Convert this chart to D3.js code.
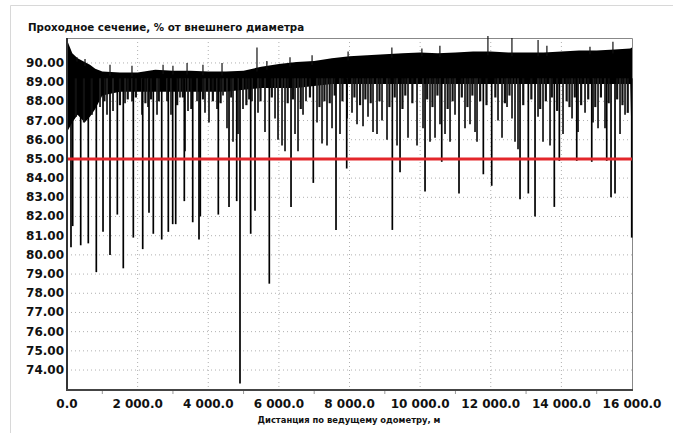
<!DOCTYPE html>
<html>
<head>
<meta charset="utf-8">
<script src="https://cdn.jsdelivr.net/npm/d3@7"></script>
<style>
  body { margin: 0; background: #fff; }
  text { font-family: "DejaVu Sans", sans-serif; font-weight: bold; fill: #111; }
</style>
</head>
<body>
<script>
// band of the signal (dense part)
var bandDist = [0,150,300,500,650,800,1000,1500,2000,2500,3000,3500,4000,4500,5000,5500,6000,6500,7000,7500,8000,
  8500,9000,9500,10000,10500,11000,11500,12000,12500,13000,13500,14000,14500,15000,15500,15950,16000];
var bandTop = [91.2,90.5,90.25,90.05,89.9,89.7,89.55,89.5,89.5,89.65,89.6,89.6,89.55,89.55,89.6,89.8,89.95,90.05,90.1,90.25,90.35,
  90.4,90.45,90.5,90.55,90.5,90.55,90.6,90.6,90.55,90.55,90.55,90.6,90.65,90.65,90.7,90.75,90.8];
var bandBottom = [86.4,86.9,87.3,86.9,87.2,87.6,88.3,88.5,88.5,88.5,88.5,88.5,88.5,88.5,88.6,88.7,88.7,88.7,88.8,88.9,88.9,
  88.9,88.9,88.9,88.9,88.9,88.9,88.9,88.9,88.9,88.9,88.9,88.9,88.9,88.9,88.9,88.9,85.0];

// deep dips: distance, minimum
var deepDist = [113,161,388,603,830,1020,1218,1425,1594,1878,2144,2322,2444,2682,2869,2993,3078,3322,3560,3738,
  3775,4285,4588,4806,4899,5202,5324,5729,6344,6975,7618,7921,9213,9431,10139,10612,11101,11790,12027,12829,
  13064,13254,13800,13942,14435,14860,15284,15406,15519,15992];
var deepMin = [80.4,81.5,80.5,80.6,79.1,81.2,80.0,82.1,79.3,80.9,80.3,82.2,81.1,80.8,81.2,81.6,81.6,82.8,81.7,80.8,
  82.0,82.1,82.5,82.8,73.3,81.1,82.3,78.5,82.5,83.75,81.3,84.5,81.3,84.3,83.3,84.85,83.2,84.2,83.6,82.9,
  83.2,82.0,82.5,84.9,84.9,84.85,84.9,83.0,83.2,80.9];

// shallow dips: distance, minimum
var shallowDist = [935,1133,1303,1643,1841,2124,2294,2549,2832,2945,3200,3342,3427,3682,3908,4021,4248,4418,4531,4701,
  4843,4984,5239,5409,5607,5891,5976,6089,6174,6457,6542,6684,6768,7080,7222,7363,7505,7731,7930,8071,
  8213,8383,8524,8666,8779,8921,9062,9346,9657,9912,10082,10280,10422,10563,10705,10847,10988,11271,11413,11555,
  11611,12206,12319,12461,12602,12687,12772,13339,13480,13679,14047,14302,14472,14670,14897,15038,15236,15661,15803];
var shallowMin = [87.7,87.3,87.5,87.9,88.0,87.3,87.7,87.3,88.0,87.3,88.2,85.4,87.5,88.0,87.4,86.9,87.6,88.3,86.6,85.9,
  86.3,87.6,88.0,87.4,86.4,87.1,86.0,85.7,85.4,86.3,85.4,87.3,88.0,86.9,85.8,85.7,86.6,86.3,87.1,87.4,
  86.8,86.7,87.2,86.4,86.3,87.0,86.0,85.7,86.1,85.7,86.6,85.9,86.1,86.8,86.3,85.9,87.3,86.6,86.8,86.4,
  85.9,87.0,86.1,87.7,87.1,85.9,85.5,87.2,85.9,85.7,86.3,87.1,86.4,87.4,86.9,86.6,86.6,86.3,87.3];

// short dips just under the dense band
var shortDist = [250,480,700,1060,1500,1720,1950,2220,2380,2600,3120,3280,3520,3850,4130,4350,4650,5080,5160,5480,
  5800,6250,6400,6620,6880,7150,7290,7440,7580,7800,8140,8300,8450,8600,8850,9130,9280,9500,9580,9780,
  10200,10350,10490,10780,10920,11180,11340,11480,11700,11880,12130,12400,12530,12920,13150,13400,13560,13730,13880,
  14150,14230,14380,14560,14760,14960,15120,15340,15580,15730,15880];
var shortMin = [87.2,86.9,87.3,88.0,87.8,88.1,88.2,87.9,88.1,88.0,87.8,88.2,87.6,88.1,88.0,87.9,88.2,87.8,88.1,88.0,
  88.2,87.9,88.1,87.6,88.2,87.7,88.0,87.9,88.3,88.0,88.2,87.8,88.1,87.9,88.0,87.7,88.2,87.6,88.3,87.9,
  88.1,87.7,88.3,87.6,88.0,88.2,87.7,88.3,88.0,87.8,88.2,87.9,88.3,87.8,88.1,87.6,88.0,88.2,87.5,
  88.0,87.7,88.2,87.8,88.1,87.7,88.2,87.9,88.1,87.8,87.4];

// upward peaks on the top edge
var peakDist = [0,283,510,1218,1840,2720,3000,3400,3850,4390,5380,5660,6315,6940,7960,9200,10050,10560,11920,12600,13340,13590,14810,15460];
var peakMax = [91.3,90.3,90.2,89.9,89.85,89.9,89.85,90.0,89.9,90.0,90.8,90.1,90.3,90.4,90.6,90.8,90.75,90.9,91.4,91.3,91.2,90.9,90.85,91.1];

var xTicks = [0,2000,4000,6000,8000,10000,12000,14000,16000];
var yTicks = [74,75,76,77,78,79,80,81,82,83,84,85,86,87,88,89,90];
var limit = 85;

var titleText = 'Проходное сечение, % от внешнего диаметра';
var xTitle = 'Дистанция по ведущему одометру, м';

var screen = { width: 673, height: 433 };
var plot = { left: 67, right: 632, top: 38, bottom: 390 };

var svg = d3.select('body').append('svg')
  .attr('width', screen.width)
  .attr('height', screen.height);

// outer frame
svg.append('path')
  .attr('d', 'M10.5,' + screen.height + 'V5.5H' + screen.width)
  .attr('fill', 'none')
  .attr('stroke', '#d8d8d8');

var xScale = d3.scaleLinear().domain([0, 16000]).range([plot.left, plot.right]);
var yScale = d3.scaleLinear().domain([72.96, 91.3]).range([plot.bottom, plot.top]);

var loc = d3.formatLocale({ decimal: '.', thousands: ' ', grouping: [3], currency: ['', ''] });
var fmtX = loc.format(',.1f');

// grid
var grid = svg.append('g');
grid.selectAll('line.gx').data(xTicks.slice(1, -1)).enter().append('line')
  .attr('x1', function(d){ return xScale(d); }).attr('x2', function(d){ return xScale(d); })
  .attr('y1', plot.top).attr('y2', plot.bottom)
  .attr('stroke', '#b0b0b0').attr('stroke-dasharray', '1,3');
grid.selectAll('line.gy').data(yTicks).enter().append('line')
  .attr('x1', plot.left).attr('x2', plot.right)
  .attr('y1', function(d){ return yScale(d); }).attr('y2', function(d){ return yScale(d); })
  .attr('stroke', '#b0b0b0').attr('stroke-dasharray', '1,3');

// plot border top/right
svg.append('path')
  .attr('d', 'M' + plot.left + ',' + (plot.top + 0.5) + 'H' + (plot.right + 0.5) + 'V' + plot.bottom)
  .attr('fill', 'none').attr('stroke', '#888');

var band = bandDist.map(function(d, i){ return [d, bandTop[i], bandBottom[i]]; });
var drawBand = d3.area()
  .x(function(d){ return xScale(d[0]); })
  .y0(function(d){ return yScale(d[2]); })
  .y1(function(d){ return yScale(d[1]); });
svg.append('path').datum(band).attr('d', drawBand).attr('fill', '#000');

function topAt(d){
  var i = d3.bisectRight(bandDist, d) - 1;
  i = Math.max(0, Math.min(i, bandDist.length - 2));
  var t = (d - bandDist[i]) / (bandDist[i + 1] - bandDist[i]);
  return bandTop[i] + t * (bandTop[i + 1] - bandTop[i]);
}

function drawDips(dist, mins, color, width){
  var rows = dist.map(function(d, i){ return [d, mins[i]]; });
  svg.append('g').selectAll('line').data(rows).enter().append('line')
    .attr('x1', function(d){ return xScale(d[0]); }).attr('x2', function(d){ return xScale(d[0]); })
    .attr('y1', yScale(89.2))
    .attr('y2', function(d){ return yScale(d[1]); })
    .attr('stroke', color).attr('stroke-width', width);
}

var peaks = peakDist.map(function(d, i){ return [d, peakMax[i]]; });
svg.append('g').selectAll('line').data(peaks).enter().append('line')
  .attr('x1', function(d){ return xScale(d[0]); }).attr('x2', function(d){ return xScale(d[0]); })
  .attr('y1', function(d){ return yScale(topAt(d[0]) - 0.2); })
  .attr('y2', function(d){ return yScale(d[1]); })
  .attr('stroke', '#111').attr('stroke-width', 1.2);

drawDips(shortDist, shortMin, '#111', 2.2);
drawDips(shallowDist, shallowMin, '#222', 1.8);
drawDips(deepDist, deepMin, '#000', 1.7);

// limit line
svg.append('line')
  .attr('x1', plot.left).attr('x2', plot.right)
  .attr('y1', yScale(limit)).attr('y2', yScale(limit))
  .attr('stroke', '#e3262b').attr('stroke-width', 3);

// axes lines
svg.append('line').attr('x1', plot.left).attr('x2', plot.left)
  .attr('y1', plot.top).attr('y2', plot.bottom + 1)
  .attr('stroke', '#333').attr('stroke-width', 2);
svg.append('line').attr('x1', plot.left - 1).attr('x2', plot.right + 1)
  .attr('y1', plot.bottom).attr('y2', plot.bottom)
  .attr('stroke', '#444').attr('stroke-width', 2);

// minor ticks on x
svg.append('g').selectAll('line').data(d3.range(1000, 16000, 2000)).enter().append('line')
  .attr('x1', function(d){ return xScale(d); }).attr('x2', function(d){ return xScale(d); })
  .attr('y1', plot.bottom + 1).attr('y2', plot.bottom + 4)
  .attr('stroke', '#999');

// tick labels
svg.append('g').selectAll('text').data(yTicks).enter().append('text')
  .attr('x', plot.left - 3)
  .attr('y', function(d){ return yScale(d) + 4; })
  .attr('text-anchor', 'end')
  .attr('font-size', 12)
  .text(function(d){ return d.toFixed(2); });

svg.append('g').selectAll('text').data(xTicks).enter().append('text')
  .attr('x', function(d){ return xScale(d); })
  .attr('y', 408)
  .attr('text-anchor', 'middle')
  .attr('font-size', 12)
  .text(function(d){ return fmtX(d); });

svg.append('text')
  .attr('x', 349).attr('y', 423)
  .attr('text-anchor', 'middle')
  .attr('font-size', 8.4)
  .text(xTitle);

svg.append('text')
  .attr('x', 28).attr('y', 31)
  .attr('font-size', 10.3)
  .text(titleText);
</script>
</body>
</html>
